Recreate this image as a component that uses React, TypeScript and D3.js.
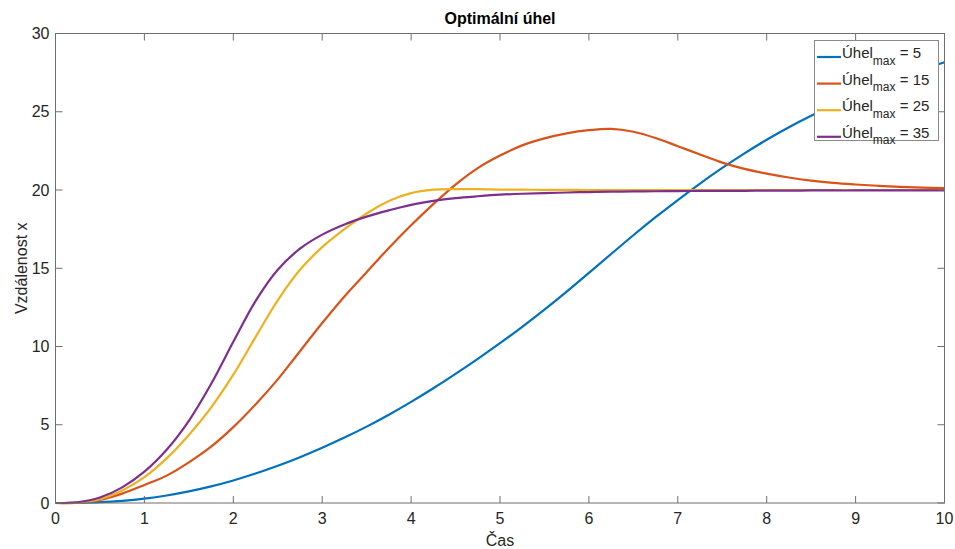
import React, { useEffect, useRef } from "react";
import * as d3 from "d3";

// time samples, 0.25 steps
const times = d3.range(0, 10.001, 0.25).map((t) => +t.toFixed(2));

const uhel5 = [
  0, 0.01, 0.05, 0.14, 0.28, 0.48, 0.74, 1.06, 1.44, 1.88, 2.38, 2.93, 3.53, 4.18, 4.88, 5.64, 6.46, 7.33, 8.25, 9.21, 10.21,
  11.26, 12.36, 13.51, 14.71, 15.91, 17.11, 18.26, 19.36, 20.41, 21.41, 22.34, 23.21, 24.01, 24.74, 25.41, 26.04, 26.62, 27.16, 27.68, 28.16,
];
const uhel15 = [
  0, 0.02, 0.2, 0.6, 1.15, 1.75, 2.6, 3.6, 4.85, 6.3, 7.9, 9.7, 11.5, 13.2, 14.75, 16.3, 17.75, 19.1, 20.35, 21.4, 22.2,
  22.85, 23.3, 23.62, 23.82, 23.9, 23.72, 23.32, 22.8, 22.27, 21.75, 21.35, 21.05, 20.8, 20.6, 20.45, 20.35, 20.27, 20.2, 20.15, 20.12,
];
const uhel25 = [
  0, 0.03, 0.25, 0.8, 1.65, 2.85, 4.35, 6.1, 8.2, 10.6, 12.95, 14.9, 16.35, 17.5, 18.5, 19.3, 19.8, 20.02, 20.06, 20.05, 20.03,
  20.02, 20.01, 20.01, 20.0, 20.0, 20.0, 20.0, 20.0, 20.0, 20.0, 20.0, 20.0, 20.0, 20.0, 20.0, 20.0, 20.0, 20.0, 20.0, 20.0,
];
const uhel35 = [
  0, 0.05, 0.35, 1.0, 2.0, 3.4, 5.25, 7.6, 10.3, 12.9, 14.9, 16.25, 17.15, 17.8, 18.3, 18.7, 19.05, 19.3, 19.48, 19.6, 19.7,
  19.76, 19.8, 19.84, 19.87, 19.89, 19.91, 19.92, 19.93, 19.94, 19.95, 19.95, 19.96, 19.96, 19.97, 19.97, 19.97, 19.98, 19.98, 19.98, 19.98,
];

const seriesLabels = ["5", "15", "25", "35"];
const seriesColors = ["#0072BD", "#D95319", "#EDB120", "#7E2F8E"];
const seriesValues = [uhel5, uhel15, uhel25, uhel35];

const xTicks = [0, 1, 2, 3, 4, 5, 6, 7, 8, 9, 10];
const yTicks = [0, 5, 10, 15, 20, 25, 30];

const W = 955;
const H = 549;
const FONT = "'Liberation Sans', Arial, Helvetica, sans-serif";

export default function App() {
  const svgRef = useRef<SVGSVGElement | null>(null);

  useEffect(() => {
    if (!svgRef.current) return;
    const svg = d3.select(svgRef.current);
    svg.selectAll("*").remove();

    const left = 55.5, right = 944.5, top = 33.5, bottom = 503;
    const x = d3.scaleLinear().domain([0, 10]).range([left, right]);
    const y = d3.scaleLinear().domain([0, 30]).range([bottom, top]);
    const axisColor = "#6f6f6f";
    const textColor = "#262626";
    const tickLen = 7;

    svg.append("rect").attr("width", W).attr("height", H).attr("fill", "#fff");

    // curves
    const line = d3
      .line<[number, number]>()
      .x((d) => x(d[0]))
      .y((d) => y(d[1]))
      .curve(d3.curveCatmullRom.alpha(0.5));

    const plot = svg.append("g");
    seriesValues.forEach((vals, i) => {
      plot
        .append("path")
        .attr("d", line(times.map((t, j) => [t, vals[j]] as [number, number])) as string)
        .attr("fill", "none")
        .attr("stroke", seriesColors[i])
        .attr("stroke-width", 2.2)
        .attr("stroke-linejoin", "round");
    });

    // box
    svg
      .append("rect")
      .attr("x", left)
      .attr("y", top)
      .attr("width", right - left)
      .attr("height", bottom - top)
      .attr("fill", "none")
      .attr("stroke", axisColor)
      .attr("stroke-width", 1);

    // ticks
    const tk = svg.append("g").attr("stroke", axisColor).attr("stroke-width", 1);
    xTicks.forEach((t) => {
      tk.append("line").attr("x1", x(t)).attr("x2", x(t)).attr("y1", bottom).attr("y2", bottom - tickLen);
      tk.append("line").attr("x1", x(t)).attr("x2", x(t)).attr("y1", top).attr("y2", top + tickLen);
    });
    yTicks.forEach((v) => {
      tk.append("line").attr("x1", left).attr("x2", left + tickLen).attr("y1", y(v)).attr("y2", y(v));
      tk.append("line").attr("x1", right).attr("x2", right - tickLen).attr("y1", y(v)).attr("y2", y(v));
    });

    const labels = svg.append("g").attr("font-family", FONT).attr("fill", textColor).attr("font-size", 16);
    xTicks.forEach((t) => {
      labels.append("text").attr("x", x(t)).attr("y", 524).attr("text-anchor", "middle").text(String(t));
    });
    yTicks.forEach((v) => {
      labels
        .append("text")
        .attr("x", left - 6)
        .attr("y", y(v) + 5.5)
        .attr("text-anchor", "end")
        .text(String(v));
    });

    // axis titles
    labels.append("text").attr("x", (left + right) / 2).attr("y", 546).attr("text-anchor", "middle").text("Čas");
    labels
      .append("text")
      .attr("transform", `translate(27, ${(top + bottom) / 2}) rotate(-90)`)
      .attr("text-anchor", "middle")
      .text("Vzdálenost x");
    labels
      .append("text")
      .attr("x", (left + right) / 2)
      .attr("y", 24)
      .attr("text-anchor", "middle")
      .attr("font-weight", "bold")
      .attr("fill", "#000")
      .text("Optimální úhel");

    // legend
    const lg = svg.append("g").attr("font-family", FONT).attr("fill", textColor);
    lg.append("rect")
      .attr("x", 814.5)
      .attr("y", 40.5)
      .attr("width", 124)
      .attr("height", 100)
      .attr("fill", "#fff")
      .attr("stroke", "#8a8a8a")
      .attr("stroke-width", 1);
    seriesLabels.forEach((lab, i) => {
      const ly = 57 + i * 26.6;
      lg.append("line")
        .attr("x1", 817)
        .attr("x2", 841)
        .attr("y1", ly)
        .attr("y2", ly)
        .attr("stroke", seriesColors[i])
        .attr("stroke-width", 2.2);
      const tx = lg.append("text").attr("x", 842).attr("y", ly + 1).attr("font-size", 15);
      tx.append("tspan").text("Úhel");
      tx.append("tspan").attr("font-size", 12).attr("dy", 6.5).text("max");
      tx.append("tspan").attr("dy", -6.5).text(` = ${lab}`);
    });
  }, []);

  return <svg ref={svgRef} width={W} height={H} style={{ display: "block", position: "absolute", left: 0, top: 0 }} />;
}
